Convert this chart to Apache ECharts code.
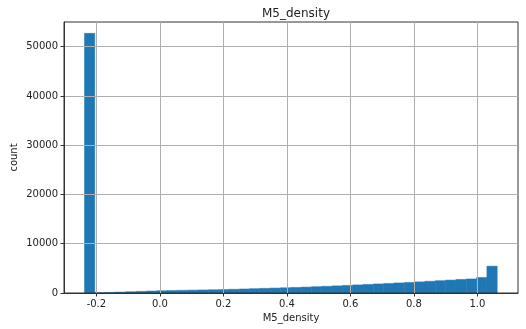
<!DOCTYPE html>
<html>
<head>
<meta charset="utf-8">
<script src="https://cdn.jsdelivr.net/npm/echarts@6/dist/echarts.min.js"></script>
<style>html,body{margin:0;padding:0;background:#fff}#c{width:526px;height:329px}</style>
</head>
<body>
<div id="c"></div>
<script>
const title = "M5_density";
const xName = "M5_density";
const yName = "count";
const binStart = -0.2375;
const binWidth = 0.0325;
const counts = [52700, 60, 120, 180, 260, 330, 400, 460, 500, 540,
  580, 620, 660, 700, 760, 820, 880, 940, 1000, 1060,
  1130, 1200, 1280, 1360, 1450, 1540, 1640, 1740, 1840, 1940,
  2040, 2150, 2260, 2380, 2500, 2620, 2750, 2850, 3150, 5450];
const xTicks = [-0.2, 0.0, 0.2, 0.4, 0.6, 0.8, 1.0];
const yTicks = [0, 10000, 20000, 30000, 40000, 50000];

const data = counts.map((c, i) => [binStart + i * binWidth, binStart + (i + 1) * binWidth, c]);
const font = "'DejaVu Sans', 'Noto Sans', sans-serif";
const chart = echarts.init(document.getElementById('c'), null, {renderer: 'canvas'});
chart.setOption({
  animation: false,
  backgroundColor: '#fff',
  title: {text: title, left: 291, top: 3, textAlign: 'center',
    textStyle: {fontFamily: font, fontSize: 12, fontWeight: 'normal', color: '#222'}},
  grid: {left: 64, right: 8, top: 22, bottom: 36, show: true, borderColor: '#333', borderWidth: 1,
    containLabel: false, outerBoundsMode: 'none'},
  xAxis: {
    type: 'value', min: -0.302, max: 1.128,
    name: xName, nameLocation: 'middle', nameGap: 20, nameMoveOverlap: false,
    nameTextStyle: {fontFamily: font, fontSize: 10, color: '#222'},
    axisLine: {show: true, onZero: false, lineStyle: {color: '#333'}},
    axisTick: {show: true, length: 3.5, customValues: xTicks, lineStyle: {color: '#333'}},
    axisLabel: {customValues: xTicks, fontFamily: font, fontSize: 10, color: '#222', margin: 6,
      formatter: v => v.toFixed(1)},
    splitLine: {show: true, lineStyle: {color: '#b0b0b0', width: 1}}
  },
  yAxis: {
    type: 'value', min: 0, max: 55000,
    name: yName, nameLocation: 'middle', nameGap: 45, nameRotate: 90, nameMoveOverlap: false,
    nameTextStyle: {fontFamily: font, fontSize: 10, color: '#222'},
    axisLine: {show: true, onZero: false, lineStyle: {color: '#333'}},
    axisTick: {show: true, length: 3.5, customValues: yTicks, lineStyle: {color: '#333'}},
    axisLabel: {customValues: yTicks, fontFamily: font, fontSize: 10, color: '#222', margin: 6,
      formatter: v => String(v)},
    splitLine: {show: true, lineStyle: {color: '#b0b0b0', width: 1}}
  },
  series: [{
    type: 'custom',
    z: -1,
    data: data,
    encode: {x: [0, 1], y: 2},
    renderItem: function (params, api) {
      const p0 = api.coord([api.value(0), api.value(2)]);
      const p1 = api.coord([api.value(1), 0]);
      return {
        type: 'rect',
        shape: {x: p0[0], y: p0[1], width: p1[0] - p0[0], height: p1[1] - p0[1]},
        style: {fill: '#1f77b4', stroke: '#1f77b4', lineWidth: 0.5}
      };
    }
  }]
});
</script>
</body>
</html>
